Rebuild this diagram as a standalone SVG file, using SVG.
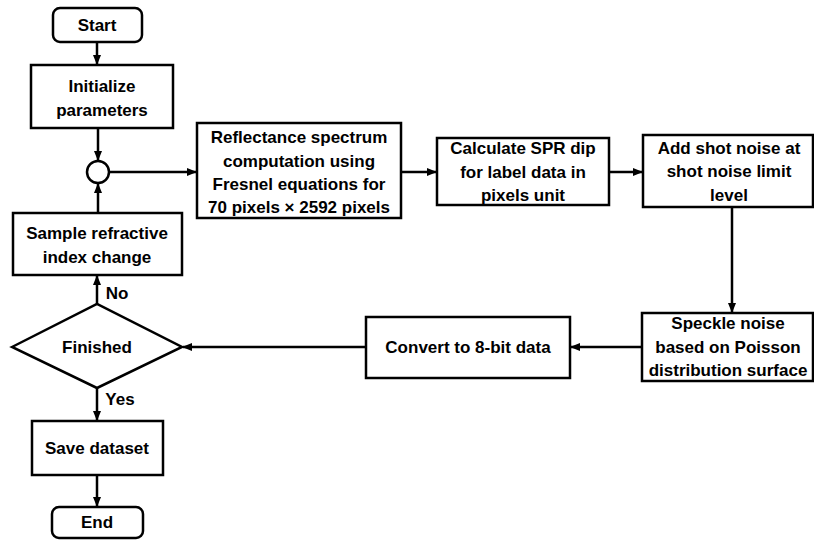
<svg xmlns="http://www.w3.org/2000/svg" width="814" height="541" viewBox="0 0 814 541">
<style>
.b{fill:#fff;stroke:#000;stroke-width:2.5}
.t{font-family:"Liberation Sans",Arial,sans-serif;font-weight:bold;font-size:17px;text-anchor:middle;fill:#000}
.c{fill:none;stroke:#000;stroke-width:2.5}
</style>
<defs>
<marker id="a" viewBox="0 0 10 10" refX="9" refY="5" markerWidth="4" markerHeight="4" orient="auto" markerUnits="strokeWidth"><path d="M0,1 L10,5 L0,9 z" fill="#000"/></marker>
</defs>
<rect width="814" height="541" fill="#fff"/>
<g id="connectors">
<path class="c" d="M97,42 V64" marker-end="url(#a)"/>
<path class="c" d="M98,128 V160" marker-end="url(#a)"/>
<path class="c" d="M98,213 V184" marker-end="url(#a)"/>
<path class="c" d="M109,172 H196" marker-end="url(#a)"/>
<path class="c" d="M401,172 H436" marker-end="url(#a)"/>
<path class="c" d="M609,172 H642" marker-end="url(#a)"/>
<path class="c" d="M732,207 V312" marker-end="url(#a)"/>
<path class="c" d="M642,347 H571" marker-end="url(#a)"/>
<path class="c" d="M366,347 H183" marker-end="url(#a)"/>
<path class="c" d="M97,304 V276" marker-end="url(#a)"/>
<path class="c" d="M97,388 V420" marker-end="url(#a)"/>
<path class="c" d="M97,475 V506" marker-end="url(#a)"/>
<text class="t" x="117" y="299">No</text>
<text class="t" x="120" y="405">Yes</text>
</g>
<g id="start"><rect class="b" x="53" y="8" width="89" height="34" rx="7"/><text class="t" x="97" y="31">Start</text></g>
<g id="init"><rect class="b" x="31" y="65" width="142" height="63"/><text class="t" x="102" y="92">Initialize</text><text class="t" x="102" y="116">parameters</text></g>
<g id="merge"><circle class="b" cx="98" cy="172" r="11"/></g>
<g id="sample"><rect class="b" x="13" y="213" width="169" height="62"/><text class="t" x="97" y="239">Sample refractive</text><text class="t" x="97" y="263">index change</text></g>
<g id="reflect"><rect class="b" x="197" y="123" width="204" height="95"/><text class="t" x="299" y="143">Reflectance spectrum</text><text class="t" x="299" y="167">computation using</text><text class="t" x="299" y="190">Fresnel equations for</text><text class="t" x="299" y="213">70 pixels × 2592 pixels</text></g>
<g id="spr"><rect class="b" x="437" y="138" width="172" height="67"/><text class="t" x="523" y="154">Calculate SPR dip</text><text class="t" x="523" y="178">for label data in</text><text class="t" x="523" y="201">pixels unit</text></g>
<g id="shot"><rect class="b" x="643" y="135" width="170" height="72"/><text class="t" x="729" y="154">Add shot noise at</text><text class="t" x="729" y="177">shot noise limit</text><text class="t" x="729" y="201">level</text></g>
<g id="speckle"><rect class="b" x="642" y="313" width="171" height="68"/><text class="t" x="728" y="329">Speckle noise</text><text class="t" x="728" y="353">based on Poisson</text><text class="t" x="728" y="376">distribution surface</text></g>
<g id="convert"><rect class="b" x="366" y="317" width="204" height="61"/><text class="t" x="468" y="353">Convert to 8-bit data</text></g>
<g id="finished"><path class="b" d="M12,347 L97,304 L182,347 L97,388 Z"/><text class="t" x="97" y="353">Finished</text></g>
<g id="save"><rect class="b" x="32" y="421" width="131" height="54"/><text class="t" x="97" y="454">Save dataset</text></g>
<g id="end"><rect class="b" x="52" y="507" width="91" height="31" rx="7"/><text class="t" x="97" y="528">End</text></g>
</svg>
